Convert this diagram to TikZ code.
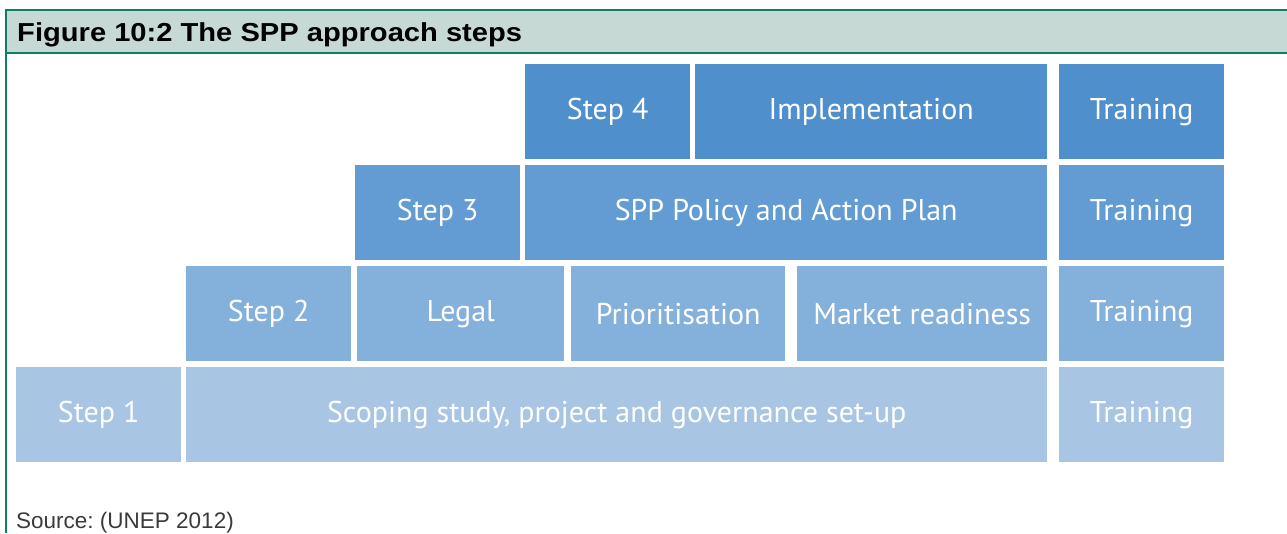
\documentclass[tikz,border=0pt]{standalone}
\usepackage{fontspec}
\setmainfont{Liberation Sans}
\newfontfamily\boxfont{PT Sans}
\usepackage{xcolor}
\definecolor{framegreen}{HTML}{0D7F69}
\definecolor{headfill}{HTML}{C6D9D5}
\definecolor{rowfour}{HTML}{4F8FCC}
\definecolor{rowthree}{HTML}{639CD2}
\definecolor{rowtwo}{HTML}{84B0DC}
\definecolor{rowone}{HTML}{A8C6E4}
\definecolor{sourcegray}{HTML}{3A3A3A}
\frenchspacing

\begin{document}
\begin{tikzpicture}[x=1pt, y=-1pt,
    box/.style={rectangle, anchor=north west, inner sep=0pt, minimum height=95pt, text=white, font=\boxfont\fontsize{30}{34}\selectfont},
    frame/.style={draw=framegreen, line width=2pt}
]
    \useasboundingbox (0,0) rectangle (1287,533);
    % header band and frame
    \fill[headfill] (6,10) rectangle (1287,53);
    \draw[frame] (6,10) -- (1287,10);
    \draw[frame] (6,53) -- (1287,53);
    \draw[frame] (6,9) -- (6,533);
    \node (title) [anchor=base west, inner sep=0pt, xscale=1.12, font=\bfseries\fontsize{26}{30}\selectfont] at (17,41) {Figure 10:2 The SPP approach steps};

    % step 4
    \node (step4) [box, fill=rowfour, minimum width=165pt] at (525,64) {Step 4};
    \node (impl) [box, fill=rowfour, minimum width=352pt] at (695,64) {Implementation};
    \node (train4) [box, fill=rowfour, minimum width=165pt] at (1059,64) {Training};
    % step 3
    \node (step3) [box, fill=rowthree, minimum width=165pt] at (355,165) {Step 3};
    \node (policy) [box, fill=rowthree, minimum width=522pt] at (525,165) {SPP Policy and Action Plan};
    \node (train3) [box, fill=rowthree, minimum width=165pt] at (1059,165) {Training};
    % step 2
    \node (step2) [box, fill=rowtwo, minimum width=165pt] at (186,266) {Step 2};
    \node (legal) [box, fill=rowtwo, minimum width=207pt] at (357,266) {Legal};
    \node (prior) [box, fill=rowtwo, minimum width=214pt] at (571,266) {Prioritisation};
    \node (market) [box, fill=rowtwo, minimum width=250pt] at (797,266) {Market readiness};
    \node (train2) [box, fill=rowtwo, minimum width=165pt] at (1059,266) {Training};
    % step 1
    \node (step1) [box, fill=rowone, minimum width=165pt] at (16,367) {Step 1};
    \node (scoping) [box, fill=rowone, minimum width=861pt] at (186,367) {Scoping study, project and governance set-up};
    \node (train1) [box, fill=rowone, minimum width=165pt] at (1059,367) {Training};

    \node (source) [anchor=base west, inner sep=0pt, text=sourcegray, font=\fontsize{22.5}{26}\selectfont] at (16,528) {Source: (UNEP 2012)};
\end{tikzpicture}
\end{document}
